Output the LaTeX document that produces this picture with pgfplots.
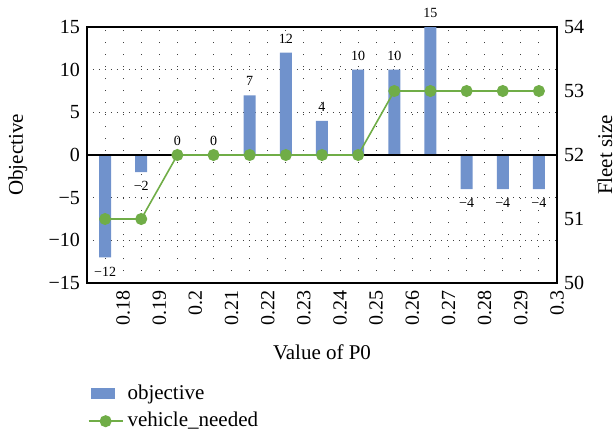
\documentclass[border=0pt]{standalone}
\usepackage{fontspec}
\setmainfont{Liberation Serif}
\usepackage{pgfplots}
\usepackage{pgfplotstable}
\pgfplotsset{compat=1.18}
\definecolor{barblue}{RGB}{112,146,204}
\definecolor{lgreen}{RGB}{112,173,71}
\pgfplotstableread{
x obj veh lab
0.175 -12 51 −12
0.185 -2 51 −2
0.195 0 52 0
0.205 0 52 0
0.215 7 52 7
0.225 12 52 12
0.235 4 52 4
0.245 10 52 10
0.255 10 53 10
0.265 15 53 15
0.275 -4 53 −4
0.285 -4 53 −4
0.295 -4 53 −4
}\datatable
\begin{document}
\begin{tikzpicture}
\path[use as bounding box] (-43.5pt,-73.5pt) rectangle (264.5pt,141.5pt);
\begin{axis}[
  scale only axis, width=235pt, height=128pt,
  at={(0,0)}, anchor=south west,
  xmin=0.17, xmax=0.3, ymin=-15, ymax=15,
  xtick={0.18,0.19,0.2,0.21,0.22,0.23,0.24,0.25,0.26,0.27,0.28,0.29,0.3},
  xticklabels={0.18,0.19,0.2,0.21,0.22,0.23,0.24,0.25,0.26,0.27,0.28,0.29,0.3},
  minor xtick={0.175,0.185,0.195,0.205,0.215,0.225,0.235,0.245,0.255,0.265,0.275,0.285,0.295},
  ytick={-15,-10,-5,0,5,10,15},
  yticklabels={−15,−10,−5,0,5,10,15},
  major tick length=0pt, minor tick length=0pt,
  xmajorgrids, xminorgrids, ymajorgrids,
  x grid style={black!75, line width=0.5pt, dash pattern=on 0.6pt off 5.4pt},
  minor x grid style={black!75, line width=0.5pt, dash pattern=on 0.6pt off 5.4pt},
  y grid style={black!75, line width=0.5pt, dash pattern=on 0.6pt off 2.4pt},
  axis line style={black, line width=0.6pt},
  tick label style={font=\fontsize{10}{12}\selectfont},
  xticklabel style={rotate=90, anchor=east},
  xlabel={Value of P0},
  ylabel={Objective},
  label style={font=\fontsize{10.5}{12}\selectfont},
  xlabel style={at={(axis description cs:0.5,-0.27)}, anchor=center},
  ylabel style={at={(axis description cs:-0.147,0.5)}, anchor=center, rotate=0},
]
\addplot[ybar, bar width=6pt, fill=barblue, draw=none,
  nodes near coords, point meta=explicit symbolic,
  visualization depends on={rawy \as \myrawy},
  every node near coord/.append style={font=\fontsize{7}{8}\selectfont, inner sep=4.5pt, black},
  every node near coord/.append code={\ifdim\myrawy pt<0pt \pgfkeysalso{anchor=north}\else\pgfkeysalso{anchor=south}\fi},
] table[x=x, y=obj, meta=lab] \datatable;
\addplot[black, line width=0.6pt, forget plot, sharp plot, mark=none] coordinates {(0.17,0) (0.3,0)};
\end{axis}
\begin{axis}[
  scale only axis, width=235pt, height=128pt,
  at={(0,0)}, anchor=south west,
  xmin=0.17, xmax=0.3, ymin=50, ymax=54,
  axis x line=none, axis y line*=right,
  ytick={50,51,52,53,54},
  yticklabels={50,51,52,53,54},
  major tick length=0pt,
  axis line style={black, line width=0.6pt},
  tick label style={font=\fontsize{10}{12}\selectfont},
  ylabel={Fleet size},
  label style={font=\fontsize{10.5}{12}\selectfont},
  ylabel style={at={(axis description cs:1.102,0.5)}, anchor=center, rotate=0},
  legend style={at={(axis description cs:-0.012,-0.365)}, anchor=north west, draw=none, fill=none,
    font=\fontsize{10.5}{12}\selectfont, row sep=1pt, cells={anchor=west}},
]
\addlegendimage{legend image code/.code={\fill[barblue] (0.05cm,-2.6pt) rectangle (0.45cm,2.6pt);}}
\addlegendentry{objective}
\addplot[lgreen, line width=0.8pt, mark=*, mark size=2.6pt, mark options={fill=lgreen, draw=lgreen}] table[x=x, y=veh] \datatable;
\addlegendentry{vehicle\_needed}
\end{axis}
\end{tikzpicture}
\end{document}
